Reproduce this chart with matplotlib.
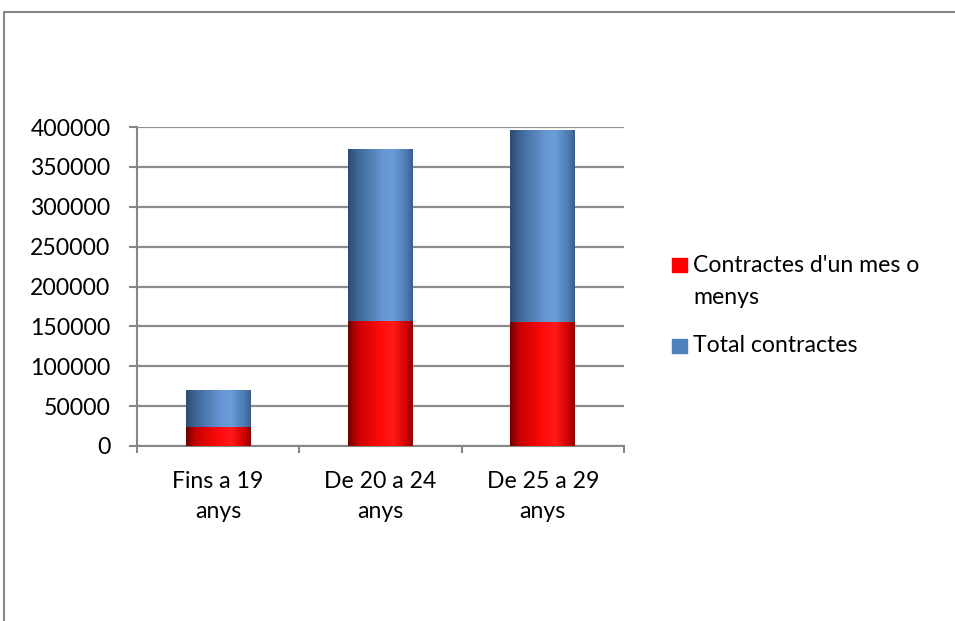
import numpy as np
import matplotlib
matplotlib.use('Agg')
import matplotlib.pyplot as plt
from matplotlib.colors import LinearSegmentedColormap
from matplotlib.patches import Rectangle
from matplotlib.lines import Line2D

plt.rcParams['font.family'] = ['Lato', 'DejaVu Sans']

categories = ['Fins a 19\nanys', 'De 20 a 24\nanys', 'De 25 a 29\nanys']
contractes_mes = [24000, 157000, 155000]
total_contractes = [46000, 215000, 241000]   # stacked on top of the red part
series_labels = ["Contractes d'un mes o\nmenys", 'Total contractes']
legend_colors = ['#ff0000', '#4f81bd']
y_ticks = [0, 50000, 100000, 150000, 200000, 250000, 300000, 350000, 400000]

red_cmap = LinearSegmentedColormap.from_list('redgrad', [
    (0.0, '#6e0000'), (0.15, '#c80000'), (0.5, '#ff0a0a'),
    (0.7, '#ff1a1a'), (0.9, '#d00000'), (1.0, '#900000')])
blue_cmap = LinearSegmentedColormap.from_list('bluegrad', [
    (0.0, '#2c4a70'), (0.15, '#3f6797'), (0.55, '#6598d4'),
    (0.7, '#6a9cd8'), (0.9, '#4d7ab0'), (1.0, '#3a5f8c')])

FS = 16.6

fig = plt.figure(figsize=(9.55, 6.21), dpi=100)
ax = fig.add_axes([137/955, 1-446/621, (624-137)/955, (446-127)/621])

x = np.arange(len(categories))
width = 0.4
grad = np.linspace(0, 1, 256).reshape(1, -1)


def shaded_bars(bottoms, heights, cmap):
    bars = ax.bar(x, heights, width, bottom=bottoms, color='none',
                  edgecolor='none', zorder=3)
    for b in bars:
        x0, y0 = b.get_x(), b.get_y()
        im = ax.imshow(grad, extent=[x0, x0 + b.get_width(), y0, y0 + b.get_height()],
                       aspect='auto', cmap=cmap, zorder=3, interpolation='bilinear')
        im.set_clip_path(b)
    return bars


shaded_bars(np.zeros(len(x)), contractes_mes, red_cmap)
shaded_bars(contractes_mes, total_contractes, blue_cmap)

ax.set_xlim(-0.5, len(categories) - 0.5)
ax.set_ylim(0, 400000)
ax.set_yticks(y_ticks)
ax.set_yticklabels([str(v) for v in y_ticks], fontsize=FS)
ax.set_xticks(x)
ax.set_xticklabels(categories, fontsize=FS, linespacing=1.55)
ax.set_xticks(np.arange(-0.5, len(categories), 1.0), minor=True)
ax.tick_params(axis='x', which='major', length=0, pad=18)
ax.tick_params(axis='x', which='minor', length=5, width=1.5, color='#868686')
ax.tick_params(axis='y', length=6, width=1.5, color='#868686', pad=13)

ax.grid(axis='y', color='#8c8c8c', linewidth=1.6, zorder=1)
ax.set_axisbelow(True)
for side in ['top', 'right']:
    ax.spines[side].set_visible(False)
for side in ['left', 'bottom']:
    ax.spines[side].set_color('#868686')
    ax.spines[side].set_linewidth(1.5)

# legend, placed by hand so the square lines up with the first text line
W, H = 955, 621
leg_rows = [(258, 272), (339, 352)]
for lab, col, (ytop, base) in zip(series_labels, legend_colors, leg_rows):
    fig.patches.append(Rectangle((672/W, 1-(ytop+14)/H), 15/W, 14/H, color=col,
                                 transform=fig.transFigure))
    for k, line in enumerate(lab.split('\n')):
        fig.text(693/W, 1-(base + 32*k)/H, line, fontsize=FS, va='baseline', ha='left')

# chart frame (only top and left edges visible)
fig.add_artist(Line2D([4/W, 1], [1-12/H, 1-12/H], color='#888888', lw=1.5,
                      transform=fig.transFigure))
fig.add_artist(Line2D([4/W, 4/W], [0, 1-12/H], color='#888888', lw=1.5,
                      transform=fig.transFigure))

plt.savefig('out.png', dpi=100)
